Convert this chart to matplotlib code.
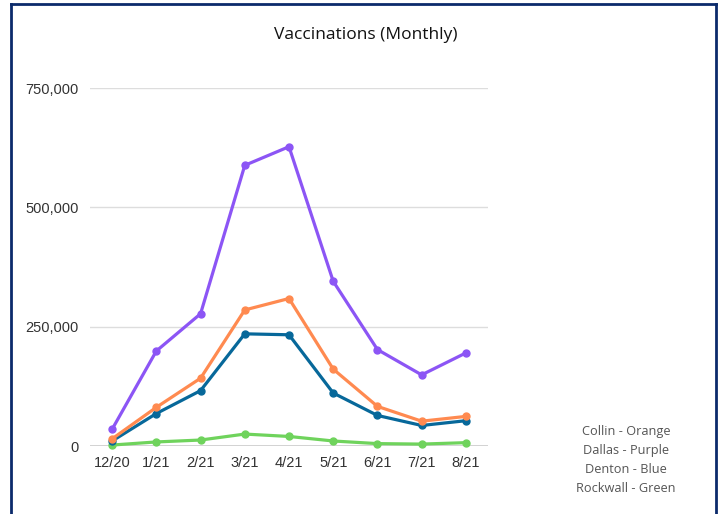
import matplotlib.pyplot as plt
from matplotlib.lines import Line2D

months = ['12/20', '1/21', '2/21', '3/21', '4/21', '5/21', '6/21', '7/21', '8/21']
collin = [15000, 81000, 142000, 285000, 309000, 161000, 83000, 52000, 62000]
dallas = [35000, 199000, 277000, 588000, 627000, 345000, 202000, 149000, 195000]
denton = [10500, 68000, 116000, 235000, 233000, 111000, 64000, 43000, 53000]
rockwall = [2000, 8500, 12500, 25000, 20000, 10500, 5000, 4000, 7000]
yticks = [0, 250000, 500000, 750000]
legend_lines = ['Collin - Orange', 'Dallas - Purple', 'Denton - Blue', 'Rockwall - Green']

fig = plt.figure(figsize=(7.19, 5.14), dpi=100)
ax = fig.add_axes([90 / 719, 68 / 514, 398 / 719, 358 / 514])

x = list(range(len(months)))
series = [
    (rockwall, '#6fd35c'),
    (denton, '#07689a'),
    (collin, '#ff8a50'),
    (dallas, '#8c55f5'),
]
for vals, col in series:
    ax.plot(x, vals, color=col, lw=2.3, marker='o', ms=5, clip_on=False, zorder=3)

ax.set_xlim(-0.5, 8.5)
ax.set_ylim(0, 750000)
ax.set_yticks(yticks)
ax.set_yticklabels([f'{v:,}' for v in yticks])
ax.set_xticks(x)
ax.set_xticklabels(months)
ax.tick_params(length=0, labelsize=10.5, colors='#333333', pad=8)
ax.tick_params(axis='x', pad=7)
for lab in ax.get_xticklabels() + ax.get_yticklabels():
    lab.set_family('Liberation Sans')
for s in ax.spines.values():
    s.set_visible(False)
ax.grid(axis='y', color='#dddddd', lw=1)
ax.axhline(0, color='#cccccc', lw=1.2, zorder=1)
ax.set_axisbelow(True)

fig.text(366 / 719, 1 - 35 / 514, 'Vaccinations (Monthly)', ha='center', va='center',
         fontsize=12.5, family='Open Sans', weight='medium', color='#111111')
fig.text(626 / 719, 1 - 460 / 514, '\n'.join(legend_lines), ha='center', va='center',
         fontsize=9.2, family='Open Sans', color='#555555', linespacing=1.6)

# dark border around the panel
border = '#0b2a6b'
fig.add_artist(Line2D([11 / 719, 11 / 719], [0, 1 - 4 / 514], color=border, lw=2))
fig.add_artist(Line2D([11 / 719, 716 / 719], [1 - 4 / 514, 1 - 4 / 514], color=border, lw=2))
fig.add_artist(Line2D([716 / 719, 716 / 719], [0, 1 - 4 / 514], color=border, lw=2))

fig.savefig('out.png', dpi=100)
